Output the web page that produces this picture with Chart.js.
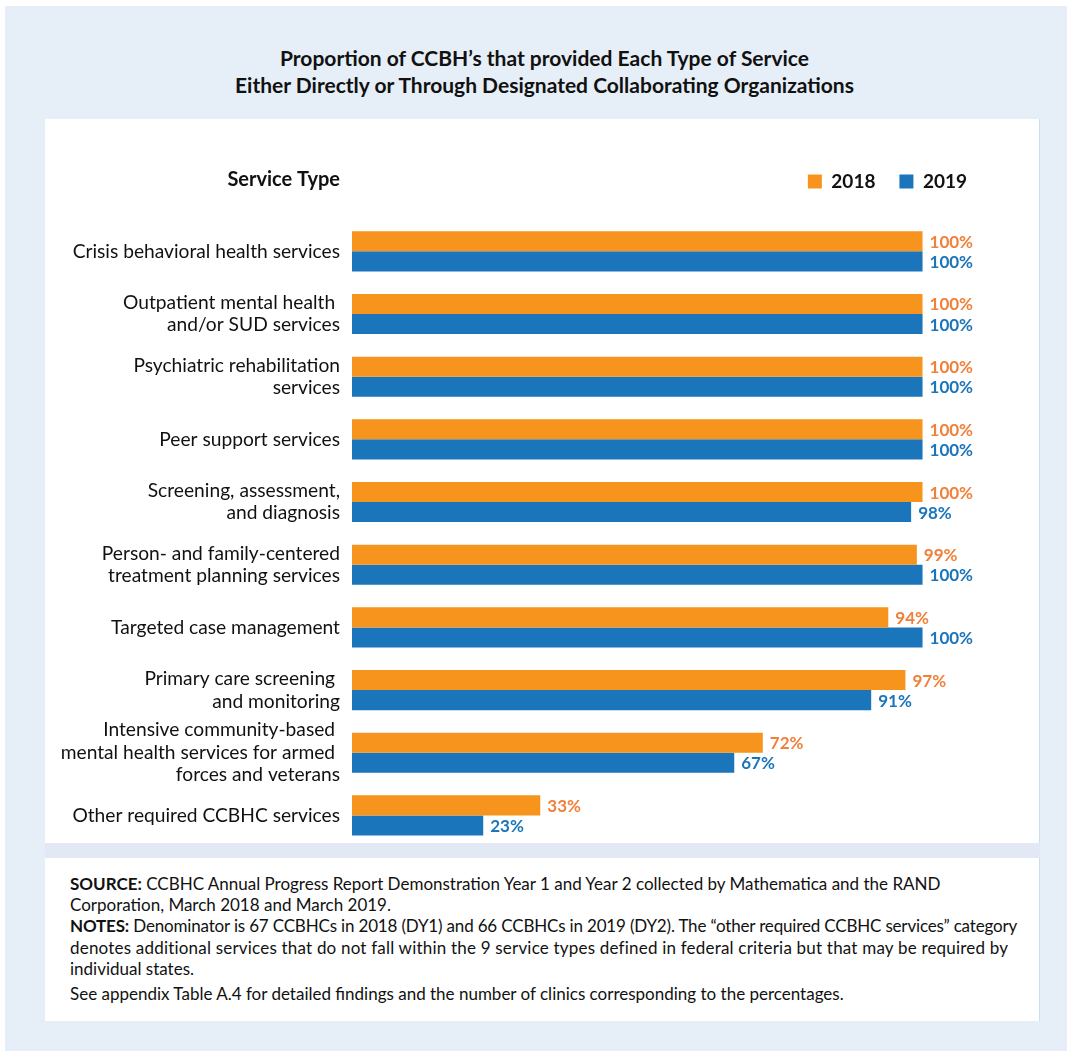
<!DOCTYPE html>
<html>
<head>
<meta charset="utf-8">
<script src="https://cdn.jsdelivr.net/npm/chart.js@4/dist/chart.umd.min.js"></script>
<style>
  body { margin: 0; background: #fff; font-family: Lato, "Open Sans", sans-serif; }
  #outer { position: absolute; left: 5px; top: 6px; width: 1062px; height: 1045px; background: #e6eff7; }
  #title { position: absolute; left: 0; top: 44px; width: 1089px; text-align: center; font-weight: bold; font-size: 21px; line-height: 27px; color: #111; }
  #panel { position: absolute; left: 45px; top: 119px; width: 994px; height: 724px; background: #fff; border-right: 1px solid #c8dfed; }
  #stripe { position: absolute; left: 45px; top: 843px; width: 995px; height: 15px; background: #e2e8f4; }
  #notes { position: absolute; left: 45px; top: 858px; width: 994px; height: 163px; background: #fff; border-right: 1px solid #c8dfed; }
  #notes div { position: absolute; left: 25px; top: 15px; font-size: 17px; line-height: 21.2px; color: #111; white-space: nowrap; }
  #notes p { margin: 0; }
  #notes p.last { margin-top: 4px; }
  .tight { letter-spacing: -0.17px; }
  .loose { letter-spacing: 0.2px; }
  #wrap { position: absolute; left: 45px; top: 140px; width: 946px; height: 722px; }
</style>
</head>
<body>
<div id="outer"></div>
<div id="title">Proportion of CCBH’s that provided Each Type of Service<br>Either Directly or Through Designated Collaborating Organizations</div>
<div id="panel"></div>
<div id="stripe"></div>
<div id="notes"><div>
<p><b>SOURCE:</b> CCBHC Annual Progress Report Demonstration Year 1 and Year 2 collected by Mathematica and the RAND<br>Corporation, March 2018 and March 2019.<br><span class="tight"><b>NOTES:</b> Denominator is 67 CCBHCs in 2018 (DY1) and 66 CCBHCs in 2019 (DY2). The “other required CCBHC services” category</span><br><span class="loose">denotes additional services that do not fall within the 9 service types defined in federal criteria but that may be required by</span><br>individual states.</p>
<p class="last">See appendix Table A.4 for detailed findings and the number of clinics corresponding to the percentages.</p>
</div></div>
<div id="wrap"><canvas id="chart-services"></canvas></div>
<script>
var serviceTypes = [
    "Crisis behavioral health services",
    ["Outpatient mental health ", "and/or SUD services"],
    ["Psychiatric rehabilitation", "services"],
    "Peer support services",
    ["Screening, assessment,", "and diagnosis"],
    ["Person- and family-centered", "treatment planning services"],
    "Targeted case management",
    ["Primary care screening ", "and monitoring"],
    ["Intensive community-based ", "mental health services for armed ", "forces and veterans"],
    "Other required CCBHC services",
];
var pct2018 = [100, 100, 100, 100, 100, 99, 94, 97, 72, 33];
var pct2019 = [100, 100, 100, 100, 98, 100, 100, 91, 67, 23];

// value labels + "Service Type" heading
var valueLabels = {
    id: 'valueLabels',
    afterDatasetsDraw: function(chart) {
        var ctx = chart.ctx;
        ctx.save();
        ctx.textBaseline = 'middle';
        ctx.textAlign = 'left';
        ctx.font = 'bold 17px Lato';
        chart.data.datasets.forEach(function(ds, i) {
            var meta = chart.getDatasetMeta(i);
            ctx.fillStyle = ds.labelColor;
            meta.data.forEach(function(bar, j) {
                ctx.fillText(ds.data[j] + '%', bar.x + 7, bar.y + 1);
            });
        });
        ctx.fillStyle = '#111';
        ctx.textAlign = 'right';
        ctx.font = 'bold 20px Lato';
        var lg = chart.legend.legendHitBoxes[0];
        ctx.fillText('Service Type', chart.chartArea.left - 12, lg.top + lg.height / 2 - 2);
        ctx.restore();
    }
};

var chartS = document.getElementById("chart-services");
var chartServices = new Chart(chartS, {
    type: 'bar',
    plugins: [valueLabels],
    data: {
        labels: serviceTypes,
        datasets: [{
            label: "2018",
            data: pct2018,
            backgroundColor: "#f7941d",
            labelColor: "#f0803a",
            borderWidth: 0,
        }, {
            label: "2019",
            data: pct2019,
            backgroundColor: "#1b75bb",
            labelColor: "#1b75bb",
            borderWidth: 0,
        }]
    },
    options: {
        indexAxis: 'y',
        responsive: true,
        maintainAspectRatio: false,
        animation: false,
        layout: { padding: { top: 8 } },
        datasets: {
            bar: { categoryPercentage: 0.64, barPercentage: 1.0 }
        },
        plugins: {
            legend: {
                position: 'top',
                align: 'end',
                labels: {
                    boxWidth: 14,
                    boxHeight: 14,
                    padding: 24,
                    color: '#111',
                    font: { family: 'Lato', size: 19, weight: 'bold' },
                }
            },
            tooltip: { enabled: false },
        },
        scales: {
            x: {
                position: 'top',
                min: 0,
                max: 112,
                grid: { display: false },
                border: { display: false },
                ticks: { display: false },
                afterFit: function(scale) { scale.height = 19; },
            },
            y: {
                grid: { display: false },
                border: { display: false },
                ticks: {
                    autoSkip: false,
                    color: '#111',
                    padding: 4,
                    font: { family: 'Lato', size: 19.2, lineHeight: 1.17 },
                },
                afterFit: function(scale) { scale.width = 307; },
            }
        }
    }
});
</script>
</body>
</html>
